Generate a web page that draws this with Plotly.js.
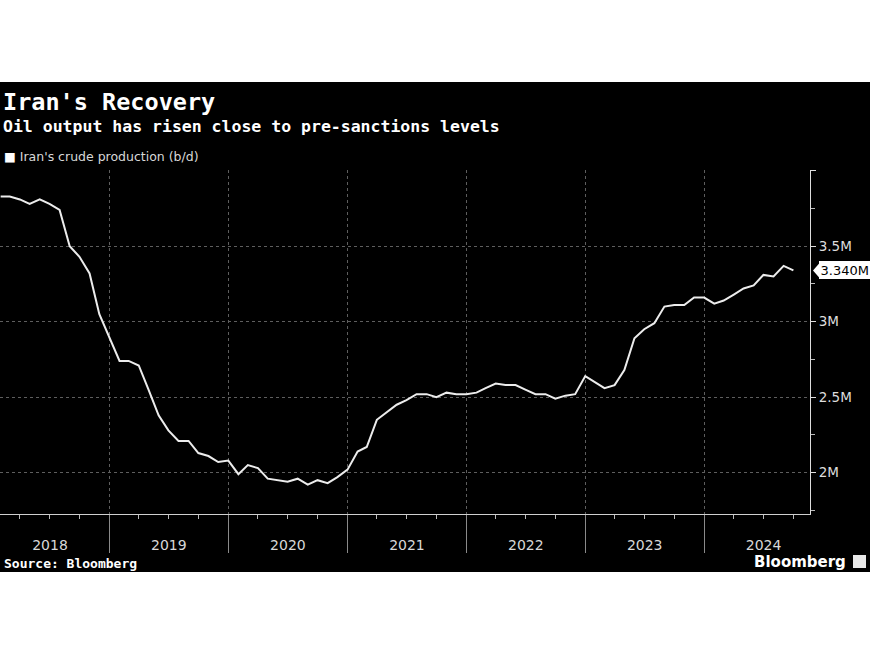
<!DOCTYPE html>
<html>
<head>
<meta charset="utf-8">
<script src="https://cdn.plot.ly/plotly-3.0.1.min.js"></script>
<style>html,body{margin:0;padding:0;background:#fff;}#chart{width:870px;height:653px;}</style>
</head>
<body>
<div id="chart"></div>
<script>
// ---- data ----
const months = [
  '2018-02-01','2018-03-01','2018-04-01','2018-05-01','2018-06-01','2018-07-01','2018-08-01','2018-09-01','2018-10-01','2018-11-01','2018-12-01',
  '2019-01-01','2019-02-01','2019-03-01','2019-04-01','2019-05-01','2019-06-01','2019-07-01','2019-08-01','2019-09-01','2019-10-01','2019-11-01','2019-12-01',
  '2020-01-01','2020-02-01','2020-03-01','2020-04-01','2020-05-01','2020-06-01','2020-07-01','2020-08-01','2020-09-01','2020-10-01','2020-11-01','2020-12-01',
  '2021-01-01','2021-02-01','2021-03-01','2021-04-01','2021-05-01','2021-06-01','2021-07-01','2021-08-01','2021-09-01','2021-10-01','2021-11-01','2021-12-01',
  '2022-01-01','2022-02-01','2022-03-01','2022-04-01','2022-05-01','2022-06-01','2022-07-01','2022-08-01','2022-09-01','2022-10-01','2022-11-01','2022-12-01',
  '2023-01-01','2023-02-01','2023-03-01','2023-04-01','2023-05-01','2023-06-01','2023-07-01','2023-08-01','2023-09-01','2023-10-01','2023-11-01','2023-12-01',
  '2024-01-01','2024-02-01','2024-03-01','2024-04-01','2024-05-01','2024-06-01','2024-07-01','2024-08-01','2024-09-01','2024-10-01'
];
// Iran's crude production, million barrels per day
const production = [
  3.83,3.83,3.81,3.78,3.81,3.78,3.74,3.50,3.43,3.32,3.05,
  2.89,2.74,2.74,2.71,2.55,2.38,2.28,2.21,2.21,2.13,2.11,2.07,
  2.08,1.99,2.05,2.03,1.96,1.95,1.94,1.96,1.92,1.95,1.93,1.97,
  2.02,2.14,2.17,2.35,2.40,2.45,2.48,2.52,2.52,2.50,2.53,2.52,
  2.52,2.53,2.56,2.59,2.58,2.58,2.55,2.52,2.52,2.49,2.51,2.52,
  2.64,2.60,2.56,2.58,2.68,2.89,2.95,2.99,3.10,3.11,3.11,3.16,
  3.16,3.12,3.14,3.18,3.22,3.24,3.31,3.30,3.37,3.34
];
const yTickVals = [2, 2.5, 3, 3.5, 4];
const yTickText = ['2M', '2.5M', '3M', '3.5M', ''];
const lastValue = production[production.length - 1];
const lastLabel = lastValue.toFixed(3) + 'M';

// ---- geometry helpers (plot area: x 0..810, y 170..514) ----
const PL = 0, PR = 810, PT = 170, PB = 514;
const px = v => (v - PL) / (PR - PL);
const py = v => (PB - v) / (PB - PT);
const yRange = [1.726, 4.005];
const valPerPx = (yRange[1] - yRange[0]) / (PB - PT);

const mono = 'DejaVu Sans Mono, monospace';
const sans = 'DejaVu Sans, sans-serif';

const traces = [
  {
    x: months, y: production, type: 'scatter', mode: 'lines',
    line: {color: '#ececec', width: 2}, hoverinfo: 'skip', showlegend: false,
    xaxis: 'x', yaxis: 'y'
  },
  {
    x: months, y: production, type: 'scatter', mode: 'lines',
    line: {color: 'rgba(0,0,0,0)', width: 0}, hoverinfo: 'skip', showlegend: false,
    xaxis: 'x2', yaxis: 'y'
  }
];

const layout = {
  width: 870, height: 653,
  margin: {l: PL, r: 870 - PR, t: PT, b: 653 - PB, pad: 0},
  paper_bgcolor: '#ffffff',
  plot_bgcolor: 'rgba(0,0,0,0)',
  showlegend: false,
  xaxis: {
    type: 'date',
    range: ['2018-01-30', '2024-11-21'],
    tick0: '2018-01-01', dtick: 'M12',
    ticklabelmode: 'period', tickformat: '%Y',
    ticks: '', ticklabelstandoff: 18,
    tickfont: {family: sans, size: 14, color: '#d8d8d8'},
    showline: true, linecolor: '#cfcfcf', linewidth: 1,
    showgrid: true, gridcolor: '#5e5e5e', griddash: 'dot', gridwidth: 1,
    zeroline: false,
    minor: {tick0: '2018-01-01', dtick: 'M3', ticks: 'outside', ticklen: 4, tickcolor: '#bbbbbb', tickwidth: 1, showgrid: false}
  },
  xaxis2: {
    type: 'date', overlaying: 'x', matches: 'x', anchor: 'y', side: 'bottom',
    range: ['2018-01-30', '2024-11-21'],
    tick0: '2018-01-01', dtick: 'M12',
    ticks: 'outside', ticklen: 38, tickcolor: '#8a8a8a', tickwidth: 1,
    showticklabels: false, showgrid: false, showline: false, zeroline: false
  },
  yaxis: {
    side: 'right', range: yRange,
    tickmode: 'array', tickvals: yTickVals, ticktext: yTickText,
    ticks: 'outside', ticklen: 5, tickcolor: '#dddddd', tickwidth: 1,
    tickfont: {family: sans, size: 13.5, color: '#dddddd'},
    showline: true, linecolor: '#dddddd', linewidth: 1,
    showgrid: true, gridcolor: '#5e5e5e', griddash: 'dot', gridwidth: 1,
    zeroline: false,
    minor: {tick0: 1.75, dtick: 0.5, ticks: 'outside', ticklen: 4, tickcolor: '#bbbbbb', tickwidth: 1, showgrid: false}
  },
  shapes: [
    // black panel
    {type: 'rect', xref: 'paper', yref: 'paper', layer: 'below',
     x0: px(0), x1: px(870), y0: py(572), y1: py(82),
     fillcolor: '#000000', line: {width: 0}},
    // pointer of last-value tag
    {type: 'path', xref: 'paper', yref: 'y', layer: 'above',
     path: 'M ' + px(813) + ' ' + lastValue +
           ' L ' + px(820) + ' ' + (lastValue + 8 * valPerPx) +
           ' L ' + px(820) + ' ' + (lastValue - 8 * valPerPx) + ' Z',
     fillcolor: '#ffffff', line: {width: 0}},
    // Bloomberg icon
    {type: 'rect', xref: 'paper', yref: 'paper', layer: 'above',
     x0: px(853), x1: px(866), y0: py(568), y1: py(555),
     fillcolor: '#e8e8e8', line: {width: 0}}
  ],
  annotations: [
    {text: "<b>Iran's Recovery</b>", xref: 'paper', yref: 'paper', x: px(1), y: py(102),
     xanchor: 'left', yanchor: 'middle', showarrow: false,
     font: {family: mono, size: 23.5, color: '#ffffff'}},
    {text: '<b>Oil output has risen close to pre-sanctions levels</b>', xref: 'paper', yref: 'paper',
     x: px(1), y: py(126), xanchor: 'left', yanchor: 'middle', showarrow: false,
     font: {family: mono, size: 16.5, color: '#ffffff'}},
    {text: "<span style='color:#ffffff'>■</span> Iran's crude production (b/d)", xref: 'paper', yref: 'paper',
     x: px(2), y: py(157), xanchor: 'left', yanchor: 'middle', showarrow: false,
     font: {family: sans, size: 12.5, color: '#d8d8d8'}},
    {text: lastLabel, xref: 'paper', yref: 'y', x: px(819), y: lastValue,
     xanchor: 'left', yanchor: 'middle', showarrow: false,
     bgcolor: '#ffffff', borderpad: 1.5, borderwidth: 0,
     font: {family: sans, size: 13, color: '#000000'}},
    {text: '<b>Source: Bloomberg</b>', xref: 'paper', yref: 'paper', x: px(2), y: py(563),
     xanchor: 'left', yanchor: 'middle', showarrow: false,
     font: {family: mono, size: 13, color: '#ffffff'}},
    {text: '<b>Bloomberg</b>', xref: 'paper', yref: 'paper', x: px(848), y: py(562),
     xanchor: 'right', yanchor: 'middle', showarrow: false,
     font: {family: sans, size: 15, color: '#ffffff'}}
  ]
};

Plotly.newPlot('chart', traces, layout, {staticPlot: true, displayModeBar: false});
</script>
</body>
</html>
